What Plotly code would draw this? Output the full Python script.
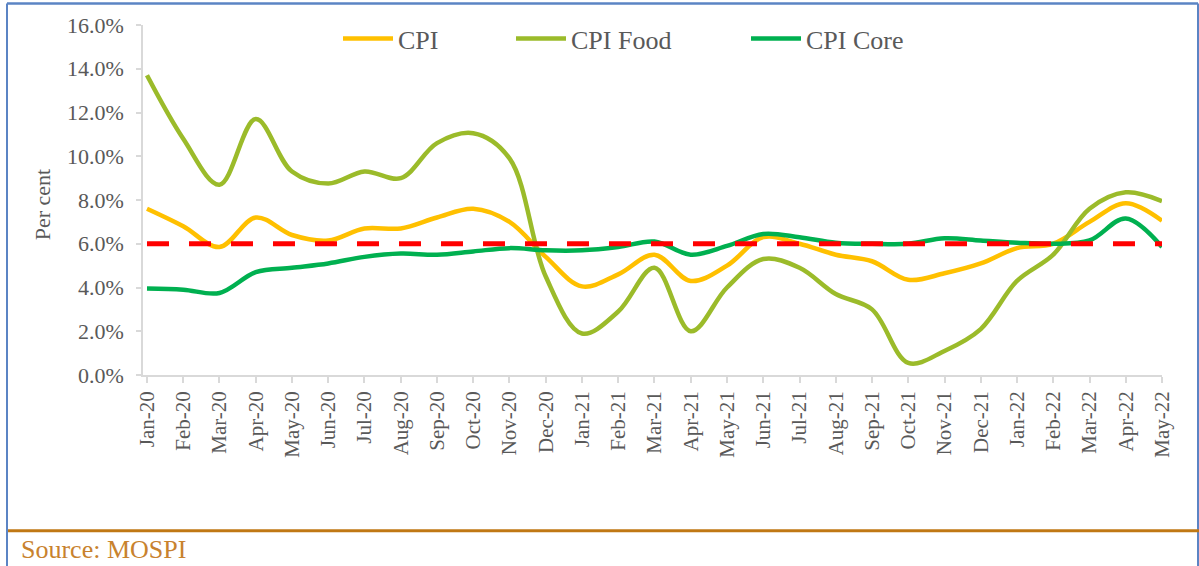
import plotly.graph_objects as go

months = ["Jan-20", "Feb-20", "Mar-20", "Apr-20", "May-20", "Jun-20", "Jul-20", "Aug-20",
          "Sep-20", "Oct-20", "Nov-20", "Dec-20", "Jan-21", "Feb-21", "Mar-21", "Apr-21",
          "May-21", "Jun-21", "Jul-21", "Aug-21", "Sep-21", "Oct-21", "Nov-21", "Dec-21",
          "Jan-22", "Feb-22", "Mar-22", "Apr-22", "May-22"]

cpi = [7.6, 6.8, 5.85, 7.2, 6.4, 6.15, 6.7, 6.7, 7.2, 7.6, 7.0, 5.4, 4.05, 4.6, 5.5, 4.3,
       5.0, 6.3, 6.0, 5.5, 5.2, 4.35, 4.65, 5.1, 5.8, 6.0, 7.0, 7.85, 7.05]

cpi_food = [13.7, 10.8, 8.7, 11.7, 9.3, 8.75, 9.3, 9.0, 10.6, 11.05, 9.9, 4.5, 1.9, 2.9, 4.9, 2.0,
            4.0, 5.3, 4.9, 3.7, 3.0, 0.55, 1.1, 2.1, 4.3, 5.5, 7.6, 8.35, 7.95]

cpi_core = [3.95, 3.9, 3.75, 4.7, 4.9, 5.1, 5.4, 5.55, 5.5, 5.65, 5.8, 5.7, 5.7, 5.85, 6.1, 5.5,
            5.9, 6.45, 6.3, 6.05, 6.0, 6.0, 6.25, 6.15, 6.05, 6.0, 6.15, 7.15, 5.85]

target = 6.0
y_ticks = [0, 2, 4, 6, 8, 10, 12, 14, 16]

FONT = "Liberation Serif, Times New Roman, serif"
GREY = "#595959"

series = [
    ("CPI", cpi, "#FFC000", "legend"),
    ("CPI Food", cpi_food, "#9BBB2A", "legend2"),
    ("CPI Core", cpi_core, "#00B050", "legend3"),
]

fig = go.Figure()
for name, vals, col, lg in series:
    fig.add_trace(go.Scatter(
        x=months, y=vals, name=name, mode="lines",
        line=dict(color=col, width=4.5, shape="spline", smoothing=1.0),
        legend=lg,
    ))

# plot-area geometry helpers (pixels -> paper)
L, R, T, B = 143, 1162, 24.5, 375
W, H = R - L, B - T
px = lambda v: (v - L) / W
py = lambda v: (B - v) / H

fig.add_shape(type="line", xref="x", yref="y", x0=0, x1=len(months) - 1, y0=target, y1=target,
              line=dict(color="#FF0000", width=5, dash="22px,20px"), layer="above")

# outer border and source rule
fig.add_shape(type="line", xref="paper", yref="paper", x0=px(7), x1=px(7), y0=py(3), y1=py(570),
              line=dict(color="#5B84C4", width=2))
fig.add_shape(type="line", xref="paper", yref="paper", x0=px(1198), x1=px(1198), y0=py(3), y1=py(570),
              line=dict(color="#5B84C4", width=2))
fig.add_shape(type="line", xref="paper", yref="paper", x0=px(7), x1=px(1198), y0=py(3), y1=py(3),
              line=dict(color="#5B84C4", width=2.5))
fig.add_shape(type="line", xref="paper", yref="paper", x0=px(8), x1=px(1199), y0=py(531), y1=py(531),
              line=dict(color="#C07814", width=3))

fig.add_annotation(text="Source: MOSPI", xref="paper", yref="paper", x=px(19), y=py(550),
                   xanchor="left", yanchor="middle", showarrow=False,
                   font=dict(family=FONT, size=26, color="#C8822E"))
fig.add_annotation(text="Per cent", xref="paper", yref="paper", x=px(42), y=py(205),
                   xanchor="center", yanchor="middle", showarrow=False, textangle=-90,
                   font=dict(family=FONT, size=22, color=GREY))

legend_common = dict(orientation="h", yanchor="middle", xanchor="left", y=py(38),
                     font=dict(family=FONT, size=26, color=GREY), bgcolor="rgba(0,0,0,0)",
                     itemwidth=50)
fig.update_layout(
    width=1199, height=566,
    margin=dict(l=L, r=1199 - R, t=T, b=566 - B),
    paper_bgcolor="white", plot_bgcolor="white",
    showlegend=True,
    legend=dict(x=px(338), **legend_common),
    legend2=dict(x=px(511), **legend_common),
    legend3=dict(x=px(746), **legend_common),
    xaxis=dict(
        type="category", range=[-0.11, len(months) - 1], tickangle=-90,
        showgrid=False, showline=True, linecolor="#D9D9D9", linewidth=1.5,
        ticks="outside", ticklen=6, tickcolor="#D9D9D9", tickwidth=1.5,
        tickfont=dict(family=FONT, size=21, color=GREY), ticklabelstandoff=0,
    ),
    yaxis=dict(
        range=[0, 16], tickvals=y_ticks, ticktext=[f"{v:.1f}%" for v in y_ticks],
        showgrid=False, showline=True, linecolor="#D9D9D9", linewidth=1.5,
        ticks="outside", ticklen=5, tickcolor="#D9D9D9", tickwidth=1.5,
        tickfont=dict(family=FONT, size=22, color=GREY), ticklabelstandoff=8,
        zeroline=False,
    ),
)

fig.write_html("out.html", config={"displayModeBar": False},
               post_script="document.body.style.margin='0';document.body.style.overflow='hidden';")
